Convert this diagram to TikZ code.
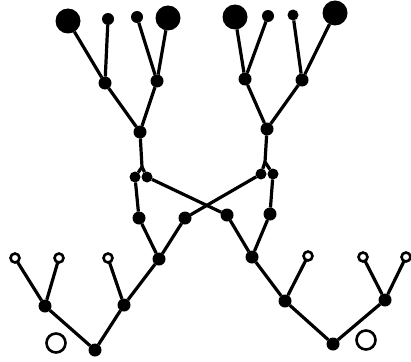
\documentclass[tikz,border=0pt]{standalone}
\begin{document}
\begin{tikzpicture}[x=1pt,y=-1pt,
  every node/.style={circle,inner sep=0pt,outer sep=0pt},
  bigdot/.style={fill=black,minimum size=25pt},
  topdot/.style={fill=black,minimum size=12pt},
  dot/.style={fill=black,minimum size=13pt},
  pairdot/.style={fill=black,minimum size=11pt},
  ring/.style={draw=black,line width=2.6pt,fill=white,minimum size=9pt},
  bigring/.style={draw=black,line width=2.6pt,minimum size=19pt},
  link/.style={line width=3.2pt}]
\useasboundingbox (0,0) rectangle (411,361);
% top left tree
\node[bigdot] (L1) at (68,21) {};
\node[topdot] (L2) at (108,19) {};
\node[topdot] (L3) at (137,17) {};
\node[bigdot] (L4) at (168,18) {};
\node[dot] (A) at (105,83) {};
\node[dot] (B) at (157,81) {};
\node[dot] (C) at (140,132) {};
\coordinate (forkL) at (142,167);
\node[pairdot] (P1) at (135,177) {};
\node[pairdot] (P2) at (147,177) {};
% top right tree
\node[bigdot] (R1) at (235,17) {};
\node[topdot] (R2) at (268,16) {};
\node[topdot,minimum size=11pt] (R3) at (293,15) {};
\node[bigdot] (R4) at (335,13) {};
\node[dot] (D) at (245,79) {};
\node[dot] (E) at (302,80) {};
\node[dot] (F) at (267,129) {};
\coordinate (forkR) at (265,162);
\node[pairdot] (Q1) at (261,174) {};
\node[pairdot] (Q2) at (273,174) {};
% middle
\node[dot] (La) at (139,218) {};
\node[dot] (Lb) at (185,218) {};
\node[dot] (Rb) at (227,215) {};
\node[dot] (Ra) at (270,214) {};
\node[dot] (M) at (159,259) {};
\node[dot] (S) at (252,257) {};
% bottom left
\node[dot] (N) at (124,305) {};
\node[ring] (n1) at (108,258) {};
\node[dot] (O) at (95,350) {};
\node[dot] (K) at (45,306) {};
\node[ring] (k1) at (15,258) {};
\node[ring] (k2) at (59,258) {};
\node[bigring] (c1) at (56,343) {};
% bottom right
\node[dot] (T) at (285,301) {};
\node[ring] (t1) at (308,256) {};
\node[dot] (U) at (333,344) {};
\node[dot] (V) at (385,300) {};
\node[ring] (v1) at (363,257) {};
\node[ring] (v2) at (406,257) {};
\node[bigring] (c2) at (366,340) {};
% links
\begin{scope}[link]
\draw (L1) -- (A); \draw (L2) -- (A); \draw (L3) -- (B); \draw (L4) -- (B);
\draw (A) -- (C); \draw (B) -- (C);
\draw (C) -- (forkL); \draw (forkL) -- (P1); \draw (forkL) -- (P2);
\draw (R1) -- (D); \draw (R2) -- (D); \draw (R3) -- (E); \draw (R4) -- (E);
\draw (D) -- (F); \draw (E) -- (F);
\draw (F) -- (forkR); \draw (forkR) -- (Q1); \draw (forkR) -- (Q2);
\draw (P1) -- (La); \draw (P2) -- (Rb);
\draw (Lb) -- (Q1); \draw (Q2) -- (Ra);
\draw (La) -- (M); \draw (Lb) -- (M);
\draw (Rb) -- (S); \draw (Ra) -- (S);
\draw (M) -- (N); \draw (N) -- (n1); \draw (N) -- (O);
\draw (O) -- (K); \draw (K) -- (k1); \draw (K) -- (k2);
\draw (S) -- (T); \draw (T) -- (t1); \draw (T) -- (U);
\draw (U) -- (V); \draw (V) -- (v1); \draw (V) -- (v2);
\end{scope}
\end{tikzpicture}
\end{document}
